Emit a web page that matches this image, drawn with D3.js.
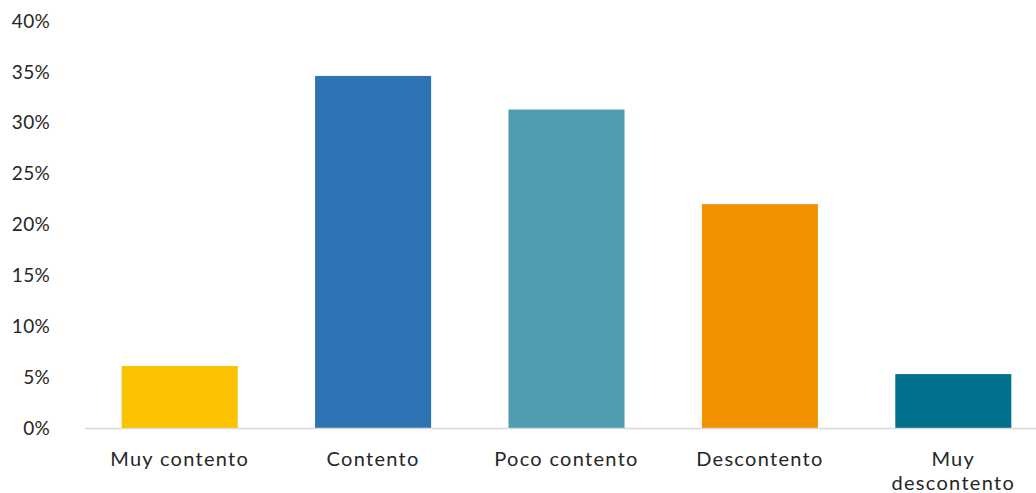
<!DOCTYPE html>
<html>
<head>
<meta charset="utf-8">
<script src="https://cdn.jsdelivr.net/npm/d3@7/dist/d3.min.js"></script>
<style>
  html, body { margin: 0; padding: 0; background: #fff; }
  svg { display: block; }
  text { font-family: "Century Gothic", "URW Gothic", "Lato", "DejaVu Sans", sans-serif; fill: #262626; }
</style>
</head>
<body>
<svg id="chart" width="1036" height="493"></svg>
<script>
const categories = ["Muy contento", "Contento", "Poco contento", "Descontento", "Muy descontento"];
const values = [6.1, 34.6, 31.3, 22.0, 5.3];
const colors = ["#FBC200", "#2E74B5", "#4F9DB1", "#F29200", "#00718C"];
const yTicks = [0, 5, 10, 15, 20, 25, 30, 35, 40];

const svg = d3.select("#chart");
const x = d3.scaleBand().domain(categories).range([83, 1050]).paddingInner(0.4).paddingOuter(0.2);
const y = d3.scaleLinear().domain([0, 40]).range([428, 21]);

// y tick labels
svg.append("g").selectAll("text").data(yTicks).join("text")
  .attr("x", 50).attr("y", d => y(d)).attr("dy", "0.35em")
  .attr("text-anchor", "end").style("font-size", "19px").style("letter-spacing", "0.3px")
  .text(d => d + "%");

// bars
svg.append("g").selectAll("rect").data(categories).join("rect")
  .attr("x", d => x(d)).attr("width", x.bandwidth())
  .attr("y", (d, i) => y(values[i])).attr("height", (d, i) => y(0) - y(values[i]))
  .attr("fill", (d, i) => colors[i]);

// baseline
svg.append("line").attr("x1", 85).attr("x2", 1036).attr("y1", y(0) + 0.5).attr("y2", y(0) + 0.5)
  .attr("stroke", "#d9d9d9").attr("stroke-width", 1.5);

// category labels (wrapped)
const labelLines = {"Muy descontento": ["Muy", "descontento"]};
const g = svg.append("g");
categories.forEach(c => {
  const lines = labelLines[c] || [c];
  const cx = x(c) + x.bandwidth() / 2;
  const t = g.append("text").attr("text-anchor", "middle").style("font-size", "20px")
    .style("letter-spacing", "1.3px").attr("x", cx);
  if (lines.length === 1) {
    t.attr("y", 466).text(c);
  } else {
    lines.forEach((l, k) => t.append("tspan").attr("x", cx).attr("y", 466 + k * 24).text(l));
  }
});
</script>
</body>
</html>
